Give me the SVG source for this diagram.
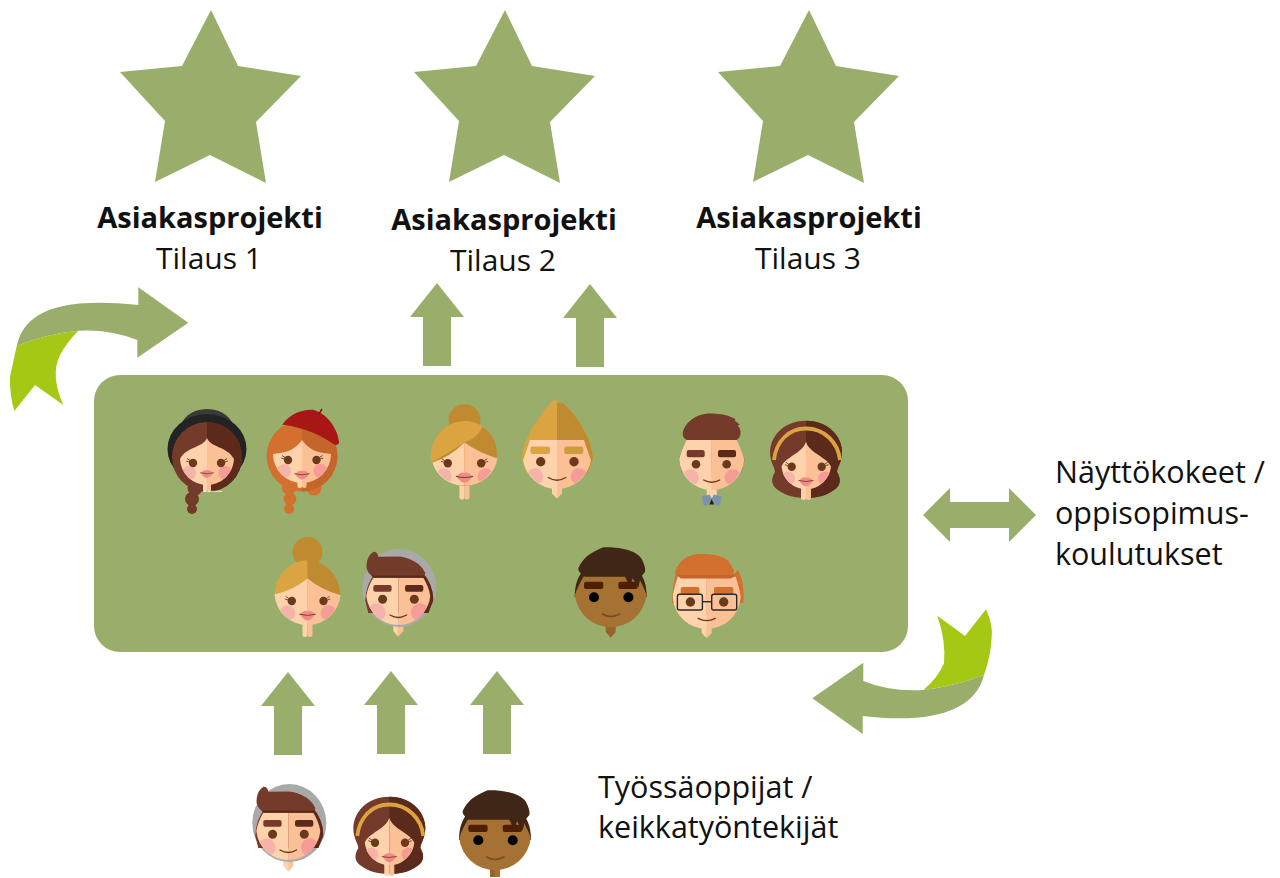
<svg xmlns="http://www.w3.org/2000/svg" width="1280" height="878" viewBox="0 0 1280 878">
<style>
.g{fill:#9aae6c}.l{fill:#a4c814}
text{font-family:"Open Sans","Noto Sans","Liberation Sans",sans-serif;font-size:30.5px;fill:#111}
.b{font-weight:700;text-anchor:middle;font-size:29px}.m{text-anchor:middle;font-size:30px}
.sl{fill:#fed3ab}.sr{fill:#fbc096}.bl{fill:#f6b3aa}.br{fill:#f59c98}
.e{fill:#6b3a1c}.hb{fill:#743a2a}.hd{fill:#5c2a1a}.au{fill:#dca440}.ad{fill:#c08a30}
.o{fill:#d4702d}.od{fill:#c4662b}.dk{fill:#3f2616}.ds{fill:#a67234}
.sm{fill:none;stroke:#6b3a1c;stroke-width:1.4;stroke-linecap:round}
</style>
<defs>
<clipPath id="c27"><path d="M-27,-4H27V0A27,27 0 0 1 -27,0Z"/></clipPath>
<clipPath id="c29"><circle r="29"/></clipPath>
<clipPath id="c32"><circle r="32"/></clipPath>
<clipPath id="c34"><circle r="34"/></clipPath>
<clipPath id="c25"><circle cy="2" r="25"/></clipPath>
<g id="eye"><circle r="4.200" class="e"/><path d="M-3,-2.500L-6,-4.500M-3.800,-1L-6.800,-2" stroke="#6b3a1c" stroke-width="0.900" fill="none"/></g>
<g id="lips"><path d="M-7,0Q-3,-4.500 0,-3Q3,-4.500 7,0Q3,5.500 0,5.500Q-3,5.500 -7,0Z" fill="#f08a85"/><path d="M-7.500,-0.300Q0,2 7.500,-0.300" stroke="#7a4030" stroke-width="0.900" fill="none"/></g>
<path id="star" d="M211,10L238,66L301,76L256,122L266,183L210,155L155,182L165,121L120,72L182,66Z" fill="#9aae6c"/>
<path id="up" d="M0,0L27,34H14V83H-14V34H-27Z" class="g"/>
<g id="faceGrey">
<path d="M-5,15H0V43.700L-5,38Z" class="sl"/><path d="M0,15H5V38L0,43.700Z" class="sr"/>
<ellipse cx="1" cy="-5" rx="37" ry="39" fill="#a9a9a9"/>
<path d="M-33,8A33,38 0 0 1 35,8L30,20H-30Z" class="hb"/><path d="M0,-30A33,38 0 0 1 35,6L30,20H0Z" class="hd"/>
<path d="M-25,-15.300H0V32A32,32 0 0 1 -32,3C-31,-4 -28,-10 -25,-15.300Z" class="sl"/><path d="M25,-15.300H0V32A32,32 0 0 0 32,3C31,-4 28,-10 25,-15.300Z" class="sr"/>
<path d="M-29,-20H26L25,-15.300H-25Z" class="hd"/>
<path d="M-31.700,-25C-32,-32 -30,-38 -25,-41C-22,-42 -20,-38 -20,-36.300L1.700,-36.500C12,-35 20,-30 24,-25L27,-20Q27,-17.500 24,-17.500H-25Q-30,-18 -31.700,-25Z" class="hb"/>
<g clip-path="url(#c32)"><circle cx="-21.700" cy="19.300" r="9" class="bl"/><circle cx="21.700" cy="19.300" r="9" class="br"/></g>
<rect x="-25" y="-8" width="18.300" height="6.700" rx="2" class="hb"/><rect x="6.700" y="-8" width="18.300" height="6.700" rx="2" class="hd"/>
<circle cx="-15.700" cy="6.300" r="4.500" class="e"/><circle cx="16" cy="6.300" r="4.500" class="e"/>
<path d="M-8.300,22Q0,27 8.300,22" class="sm"/>
</g>
<g id="faceBand">
<path d="M0,-41.300C24,-41.300 36,-24 36,-10C36,0 31,6 31,10C36,18 34,24 28,28C20,34 10,36 0,36C-10,36 -20,34 -28,28C-34,24 -36,18 -31,10C-31,6 -36,0 -36,-10C-36,-24 -24,-41.300 0,-41.300Z" class="hb"/>
<path d="M0,-41.300C24,-41.300 36,-24 36,-10C36,0 31,6 31,10C36,18 34,24 28,28C20,34 10,36 0,36Z" class="hd"/>
<rect x="-5" y="18" width="5" height="20" rx="2" class="sl"/><rect x="0" y="18" width="5" height="20" rx="2" class="sr"/>
<path d="M0,-20.300C-4,-8 -20,-6 -24.500,4.700A25,25 0 0 0 0,27.300Z" class="sl"/><path d="M0,-20.300C4,-8 20,-6 25,4.700A25,25 0 0 1 0,27.300Z" class="sr"/>
<path d="M-32,-2C-30,-20 -18,-33.500 0,-33.500C18,-33.500 32,-20 34,-2" fill="none" stroke="#dca440" stroke-width="3.800"/>
<g clip-path="url(#c25)"><circle cx="-17.700" cy="16.300" r="6.800" class="bl"/><circle cx="19" cy="16.300" r="6.800" class="br"/></g>
<use href="#eye" transform="translate(-14.300,4.700)"/><use href="#eye" transform="translate(15.700,4.700) scale(-1,1)"/>
<use href="#lips" transform="translate(0,18.700)"/>
</g>
<g id="faceDarkBase">
<path d="M-36,8C-36,-4 -33,-12 -28,-18H28C33,-12 36,-4 36,8Z" class="dk"/>
<path d="M-26,-14H26C30,-8 34,0 35.800,6A36,36 0 0 1 -35.800,6C-34,0 -30,-8 -26,-14Z" class="ds"/>
<path d="M-32.300,-21C-28,-30 -22,-36 -7.300,-41.700C5,-42 25,-40 31,-30C34,-24 35,-20 34.300,-17L29.300,-11L27.700,-2L22,-11L19.300,-2L14.300,-12.300H-25.700C-29,-14 -31,-16 -32.300,-19Z" class="dk"/>
<rect x="-26.700" y="-7.300" width="19.300" height="7.300" rx="2" fill="#4f1f05"/><rect x="7.700" y="-7.300" width="19.300" height="7.300" rx="2" fill="#4f1f05"/>
<path d="M22,-11L27.700,-2L29,-8L30,-13Z" class="dk"/>
<circle cx="-16.700" cy="8.300" r="5" fill="#000"/><circle cx="17.700" cy="8.300" r="5" fill="#000"/>
<path d="M-8.300,25Q0,30 9,25" fill="none" stroke="#7a4a25" stroke-width="1.500" stroke-linecap="round"/>
</g>
</defs>

<g id="connectors">
<use href="#up" x="437" y="283"/><use href="#up" x="590" y="284"/>
<use href="#up" x="288" y="672"/><use href="#up" x="391" y="671"/><use href="#up" x="497" y="671"/>
<path d="M923,515L950,488V502H1009V488L1036,515L1009,542V528H950V542Z" class="g"/>
<path d="M16.700,346L10,376.700Q9.500,395 14.300,411L35,385L63.300,405Q50,375 60,355Q67,342 78.300,330.700Q45,334 16.700,346Z" class="l"/>
<path d="M16.700,346C24,316 50,296 138.300,305V287.300L188.300,322.700L137.300,357.700V340Q110,329 78.300,330.700Q45,334 16.700,346Z" class="g"/>
<path d="M923.300,690Q938,678 944,663.300Q946,640 937.300,615.700L965,636L986,609.300Q993,625 991.700,636.700Q991,655 984,675Q955,686 923.300,690Z" class="l"/>
<path d="M984,675C975,712 930,724 862.700,716V734L812.300,698.300L863.300,662.700V681Q890,692 923.300,690Q955,686 984,675Z" class="g"/>
</g>

<g id="team-box"><rect x="94" y="375" width="814" height="277" rx="26" class="g"/></g>

<g id="star-1"><use href="#star"/><text class="b" x="210" y="228">Asiakasprojekti</text><text class="m" x="209" y="269">Tilaus 1</text></g>
<g id="star-2"><use href="#star" x="294"/><text class="b" x="504" y="230">Asiakasprojekti</text><text class="m" x="503" y="271">Tilaus 2</text></g>
<g id="star-3"><use href="#star" x="598"/><text class="b" x="809" y="228">Asiakasprojekti</text><text class="m" x="808" y="269">Tilaus 3</text></g>

<g id="label-right"><text x="1055" y="483">Näyttökokeet /</text><text x="1055" y="524">oppisopimus-</text><text x="1055" y="565">koulutukset</text></g>
<g id="label-bottom"><text x="598" y="798">Työssäoppijat /</text><text x="598" y="838">keikkatyöntekijät</text></g>

<g id="face-1" transform="translate(207,458)">
<ellipse cx="0" cy="-28" rx="27" ry="21" fill="#3a3a3a"/>
<ellipse cx="0" cy="-9" rx="39.500" ry="35" fill="#232323"/>
<circle cy="-1" r="35" class="hb"/><path d="M0,-36A35,35 0 0 1 0,34Z" class="hd"/>
<circle cx="-12" cy="30" r="7.500" class="hb"/><circle cx="-15" cy="41" r="7" class="hb"/><circle cx="-15" cy="51" r="5" class="hb"/>
<rect x="-4" y="15" width="4" height="19" rx="2" class="sl"/><rect x="0" y="15" width="4" height="19" rx="2" class="sr"/>
<path d="M-4,33.300H15" stroke="#fff" stroke-width="0.800"/>
<path d="M0,-20C-4,-10 -20,-12 -27,1A27,27 0 0 0 0,27Z" class="sl"/><path d="M0,-20C4,-10 20,-12 27,1A27,27 0 0 1 0,27Z" class="sr"/>
<g clip-path="url(#c27)"><circle cx="-18" cy="15" r="7" class="bl"/><circle cx="18.500" cy="15" r="7" class="br"/></g>
<use href="#eye" transform="translate(-14,5)"/><use href="#eye" transform="translate(14,5) scale(-1,1)"/>
<use href="#lips" transform="translate(0,15) scale(.9)"/>
</g>

<g id="face-2" transform="translate(302,454)">
<circle cx="12" cy="34" r="7.500" class="o"/><circle cx="-13" cy="34" r="7" class="o"/><circle cx="-12" cy="45" r="6.300" class="o"/><circle cx="-13" cy="55" r="5" class="o"/>
<circle cy="2" r="35.500" class="o"/><path d="M0,-33.500A35.500,35.500 0 0 1 0,37.500V-33.500Z" class="od"/>
<rect x="-4.500" y="15" width="4.500" height="19" rx="2" class="sl"/><rect x="0" y="15" width="4.500" height="19" rx="2" class="sr"/>
<path d="M0,-14C-8,-2 -20,-1 -29,0A29,29 0 0 0 0,29Z" class="sl"/><path d="M0,-14C8,-2 20,-1 29,0A29,29 0 0 1 0,29Z" class="sr"/>
<g clip-path="url(#c29)"><circle cx="-18" cy="17" r="7" class="bl"/><circle cx="18.500" cy="17" r="7" class="br"/></g>
<use href="#eye" transform="translate(-14,6)"/><use href="#eye" transform="translate(14.500,6) scale(-1,1)"/>
<use href="#lips" transform="translate(0,20)"/>
<path d="M-20,-29C-10,-43 5,-45 12,-44C26,-40 36,-24 37,-12C37,-10 36,-9 33,-9C20,-18 5,-26 -20,-29.500Z" fill="#a81616"/>
<path d="M17,-40L20,-45" stroke="#7a1a10" stroke-width="1.500"/>
</g>

<g id="face-3" transform="translate(464.500,453.500)">
<circle cy="-33.500" r="16" class="ad"/>
<rect x="-5" y="15" width="5" height="31" rx="2.500" class="sl"/><rect x="0" y="15" width="5" height="31" rx="2.500" class="sr"/>
<circle r="32.500" class="ad"/>
<path d="M0,-11Q-14,3 -32,9A32,32 0 0 0 0,32Z" class="sl"/><path d="M0,-11Q14,-1 33,5A32,32 0 0 1 0,32Z" class="sr"/>
<path d="M-34,1C-32,-18 -18,-32.500 0,-32.500C8,-32.500 14,-30 18,-27C14,-18 8,-14 0,-11Q-14,-2 -33,9Z" class="au"/>
<g clip-path="url(#c32)"><circle cx="-20.700" cy="23" r="8" class="bl"/><circle cx="21" cy="23" r="8" class="br"/></g>
<use href="#eye" transform="translate(-16.700,9.800)"/><use href="#eye" transform="translate(16.700,9.800) scale(-1,1)"/>
<use href="#lips" transform="translate(0,23) scale(1.150)"/>
</g>

<g id="face-4" transform="translate(557,454.500)">
<path d="M-5,20H0V44L-5,39Z" class="sl"/><path d="M5,20H0V44L5,39Z" class="sr"/>
<path d="M-2,-56L1,-51.500L5,-52C16,-44 35,-18 36,4L30,20H-30L-35,4C-34,-18 -14,-44 -2,-56Z" class="au"/>
<path d="M0,-52L1,-51.500L5,-52C16,-44 35,-18 36,4L30,20H0Z" class="ad"/>
<path d="M-27,-14.500H0V34.500A34.500,34.500 0 0 1 -34,6Z" class="sl"/><path d="M27,-14.500H0V34.500A34.500,34.500 0 0 0 34,6Z" class="sr"/>
<g clip-path="url(#c34)"><circle cx="-22" cy="22" r="8.300" class="bl"/><circle cx="22" cy="22" r="8.300" class="br"/></g>
<rect x="-26.500" y="-8" width="19.500" height="7.500" rx="2" class="au"/><rect x="7.300" y="-8" width="19" height="7.500" rx="2" fill="#cf9c3b"/>
<circle cx="-16.300" cy="7.200" r="4.700" class="e"/><circle cx="17" cy="7.200" r="4.700" class="e"/>
<path d="M-8.700,23Q0,28.500 8.700,23" class="sm"/>
</g>

<g id="face-5" transform="translate(711.700,457.500)">
<path d="M-33,3A33.500,33.500 0 0 1 33,3L30,15H-30Z" fill="#9c7c68"/>
<rect x="-5" y="20" width="10" height="20" rx="2" class="sl"/>
<path d="M-10,39L-2,37L0,42L-5,48L-8,48Z" fill="#7a93ad"/><path d="M10,39L2,37L0,42L5,48L8,48Z" fill="#7a93ad"/>
<path d="M0,41.500L2.500,47H-2.500Z" fill="#1e1e1e"/>
<path d="M-25,-17.500H0V32.500A32.500,32.500 0 0 1 -32.500,2C-31,-5 -28,-11 -25,-17.500Z" class="sl"/><path d="M25,-17.500H0V32.500A32.500,32.500 0 0 0 32.500,2C31,-5 28,-11 25,-17.500Z" class="sr"/>
<path d="M-29,-24C-28,-34 -16,-44 -2,-44C10,-44 18,-42 24,-38L23,-37L28,-33L26,-32C30,-28 30,-20 25,-17.500H-25C-28,-19 -29,-21 -29,-24Z" class="hb"/>
<g clip-path="url(#c32)"><circle cx="-21" cy="20" r="8.200" class="bl"/><circle cx="21" cy="20" r="8.200" class="br"/></g>
<rect x="-25" y="-7.500" width="18" height="7.300" rx="2" class="hb"/><rect x="6.300" y="-7.500" width="18" height="7.300" rx="2" class="hd"/>
<circle cx="-15.700" cy="6.800" r="4.300" class="e"/><circle cx="15" cy="6.800" r="4.300" class="e"/>
<path d="M-8,22.500Q0,27 8,22.500" class="sm"/>
</g>

<use id="face-6" href="#faceBand" transform="translate(806,462)"/>

<g id="face-7" transform="translate(307.500,593)">
<circle cy="-41" r="15" class="ad"/>
<rect x="-5" y="15" width="5" height="29" rx="2.500" class="sl"/><rect x="0" y="15" width="5" height="29" rx="2.500" class="sr"/>
<path d="M0,-14.700Q-14,-3 -33,1.300A32.700,32.700 0 0 0 0,32Z" class="sl"/><path d="M0,-14.700Q14,-3 33,2A32.700,32.700 0 0 1 0,32Z" class="sr"/>
<path d="M0,-32.700C-18,-32.700 -32,-17 -33,1.300Q-14,-3 0,-14.700Z" class="au"/>
<path d="M0,-32.700C18,-32.700 32,-17 33,2Q14,-3 0,-14.700Z" class="ad"/>
<g clip-path="url(#c32)"><circle cx="-20" cy="20" r="7.800" class="bl"/><circle cx="21" cy="20" r="7.800" class="br"/></g>
<use href="#eye" transform="translate(-15.700,8)"/><use href="#eye" transform="translate(16,8) scale(-1,1)"/>
<use href="#lips" transform="translate(0,21.500) scale(1.100)"/>
</g>

<use id="face-8" href="#faceGrey" transform="translate(398.300,593)"/>

<g id="face-9" transform="translate(610.700,589)">
<path d="M-5,30H5V43L0,48.700L-5,43Z" fill="#96642b"/>
<use href="#faceDarkBase"/>
</g>

<g id="face-10" transform="translate(706.700,595)">
<path d="M-34.700,8C-34,-6 -33,-14 -31,-20H27L31,-25C36,-18 37.500,-5 36.700,8Z" class="o"/>
<path d="M-5,20H0V43.300L-5,38Z" class="sl"/><path d="M5,20H0V43.300L5,38Z" class="sr"/>
<path d="M-29,-18.300H0V34A34,34 0 0 1 -34,2C-33,-6 -31,-12 -29,-18.300Z" class="sl"/><path d="M29,-18.300H0V34A34,34 0 0 0 34,2C33,-6 31,-12 29,-18.300Z" class="sr"/>
<path d="M-31,-21.700H27.500V-18.300L24,-16.500H-26Z" class="od"/>
<path d="M-31.700,-23C-28,-35 -18,-41 -6.700,-41C6,-41 18,-40 23,-32L27,-25L27.300,-20H-31Z" class="o"/>
<rect x="-26" y="-8" width="18.700" height="7.700" rx="2" class="o"/><rect x="7.300" y="-8" width="19.300" height="7.700" rx="2" class="o"/>
<circle cx="-16.300" cy="7" r="4.700" class="e"/><circle cx="17" cy="7" r="4.700" class="e"/>
<g fill="none" stroke="#2a2a2a" stroke-width="1.400"><rect x="-29.300" y="-0.700" width="25" height="15.700" rx="2"/><rect x="5" y="-0.700" width="25" height="15.700" rx="2"/><path d="M-4.300,6.700H5"/></g>
<path d="M-8.500,23.300Q0,28 8.500,23.300" class="sm"/>
</g>

<use id="face-11" href="#faceGrey" transform="translate(288.300,828)"/>
<use id="face-12" href="#faceBand" transform="translate(389.300,838)"/>
<g id="face-13" transform="translate(495,832)">
<rect x="-5" y="30" width="5" height="15" fill="#96642b"/><rect x="0" y="30" width="5" height="15" fill="#a67234"/>
<use href="#faceDarkBase"/>
</g>
</svg>
